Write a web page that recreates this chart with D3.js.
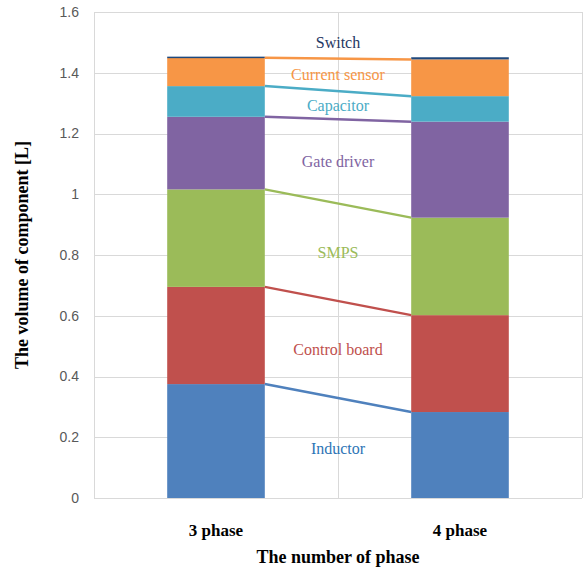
<!DOCTYPE html>
<html lang="en">

<head>
  <meta charset="UTF-8" />
  <script src="https://d3js.org/d3.v7.min.js"></script>
  <style>
    body {
      margin: 0;
      background-color: #ffffff;
      overflow: hidden;
    }

    svg {
      display: block;
    }
  </style>
</head>

<body>
  <svg width="584" height="570"></svg>

  <script>
    const phases = ['3 phase', '4 phase'];
    const components = ['Inductor', 'Control board', 'SMPS', 'Gate driver', 'Capacitor', 'Current sensor', 'Switch'];
    const volume3 = [0.375, 0.32, 0.321, 0.239, 0.101, 0.093, 0.004];
    const volume4 = [0.283, 0.319, 0.321, 0.316, 0.084, 0.121, 0.007];
    const yTicks = [0, 0.2, 0.4, 0.6, 0.8, 1, 1.2, 1.4, 1.6];

    const barColors = {
      'Inductor': '#4f81bd', 'Control board': '#c0504d', 'SMPS': '#9bbb59',
      'Gate driver': '#8064a2', 'Capacitor': '#4bacc6', 'Current sensor': '#f79646', 'Switch': '#1f497d'
    };
    const textColors = {
      'Inductor': '#2e75b6', 'Control board': '#c0504d', 'SMPS': '#9bbb59',
      'Gate driver': '#8064a2', 'Capacitor': '#4bacc6', 'Current sensor': '#f79646', 'Switch': '#1f3864'
    };

    const svg = d3.select("svg");
    const margin = { left: 94, right: 2, top: 12, bottom: 72 };
    const width = 584, height = 570;

    const x = d3.scaleBand()
      .domain(phases)
      .range([margin.left, width - margin.right])
      .paddingInner(0.6)
      .paddingOuter(0.3);

    const y = d3.scaleLinear()
      .domain([0, 1.6])
      .range([height - margin.bottom, margin.top]);

    // table for stacking
    const table = phases.map((p, i) => {
      const row = { phase: p };
      components.forEach((c, j) => row[c] = (i === 0 ? volume3 : volume4)[j]);
      return row;
    });
    const series = d3.stack().keys(components)(table);

    // grid
    const grid = svg.append("g");
    grid.selectAll("line.h")
      .data(yTicks)
      .join("line")
      .attr("x1", margin.left)
      .attr("x2", width - margin.right)
      .attr("y1", d => Math.round(y(d)) + 0.5)
      .attr("y2", d => Math.round(y(d)) + 0.5)
      .attr("stroke", "#d9d9d9")
      .attr("stroke-width", 1);

    const step = x.step();
    const xr = x.range();
    grid.selectAll("line.v")
      .data([xr[0], xr[0] + step, xr[1]])
      .join("line")
      .attr("x1", d => Math.round(d) + 0.5)
      .attr("x2", d => Math.round(d) + 0.5)
      .attr("y1", y(1.6))
      .attr("y2", y(0))
      .attr("stroke", "#d9d9d9")
      .attr("stroke-width", 1);

    // tick labels
    svg.append("g")
      .selectAll("text")
      .data(yTicks)
      .join("text")
      .attr("x", 79)
      .attr("y", d => y(d))
      .attr("dy", "0.35em")
      .attr("text-anchor", "end")
      .attr("font-family", "Liberation Sans, Arial, sans-serif")
      .attr("font-size", 14)
      .attr("fill", "#595959")
      .text(d => d);

    // bars
    svg.append("g")
      .selectAll("g")
      .data(series)
      .join("g")
      .attr("fill", d => barColors[d.key])
      .selectAll("rect")
      .data(d => d)
      .join("rect")
      .attr("x", d => x(d.data.phase))
      .attr("width", x.bandwidth())
      .attr("y", d => y(d[1]))
      .attr("height", d => Math.max(1.5, y(d[0]) - y(d[1])));

    // connector lines (series lines), skip Switch
    const lines = svg.append("g");
    series.filter(s => s.key !== 'Switch').forEach(s => {
      lines.append("line")
        .attr("x1", x(phases[0]) + x.bandwidth())
        .attr("y1", y(s[0][1]))
        .attr("x2", x(phases[1]))
        .attr("y2", y(s[1][1]))
        .attr("stroke", barColors[s.key])
        .attr("stroke-width", 2.5);
    });

    // component labels in the gap
    const midX = xr[0] + step;
    svg.append("g")
      .selectAll("text")
      .data(series)
      .join("text")
      .attr("x", midX)
      .attr("y", s => {
        if (s.key === 'Switch') return y(s[0][1]) - 14;
        const m = ((s[0][0] + s[0][1]) / 2 + (s[1][0] + s[1][1]) / 2) / 2;
        return y(m);
      })
      .attr("dy", "0.35em")
      .attr("text-anchor", "middle")
      .attr("font-family", "Liberation Serif, Times New Roman, serif")
      .attr("font-size", 16)
      .attr("fill", s => textColors[s.key])
      .text(s => s.key);

    // category labels
    svg.append("g")
      .selectAll("text")
      .data(phases)
      .join("text")
      .attr("x", d => x(d) + x.bandwidth() / 2)
      .attr("y", 530)
      .attr("dy", "0.35em")
      .attr("text-anchor", "middle")
      .attr("font-family", "Liberation Serif, Times New Roman, serif")
      .attr("font-weight", "bold")
      .attr("font-size", 17)
      .attr("fill", "#000")
      .text(d => d);

    // axis titles
    svg.append("text")
      .attr("x", midX)
      .attr("y", 557)
      .attr("dy", "0.35em")
      .attr("text-anchor", "middle")
      .attr("font-family", "Liberation Serif, Times New Roman, serif")
      .attr("font-weight", "bold")
      .attr("font-size", 18)
      .text("The number of phase");

    svg.append("text")
      .attr("transform", `translate(22, ${(y(0) + y(1.6)) / 2}) rotate(-90)`)
      .attr("dy", "0.35em")
      .attr("text-anchor", "middle")
      .attr("font-family", "Liberation Serif, Times New Roman, serif")
      .attr("font-weight", "bold")
      .attr("font-size", 18)
      .text("The volume of component [L]");
  </script>
</body>

</html>
